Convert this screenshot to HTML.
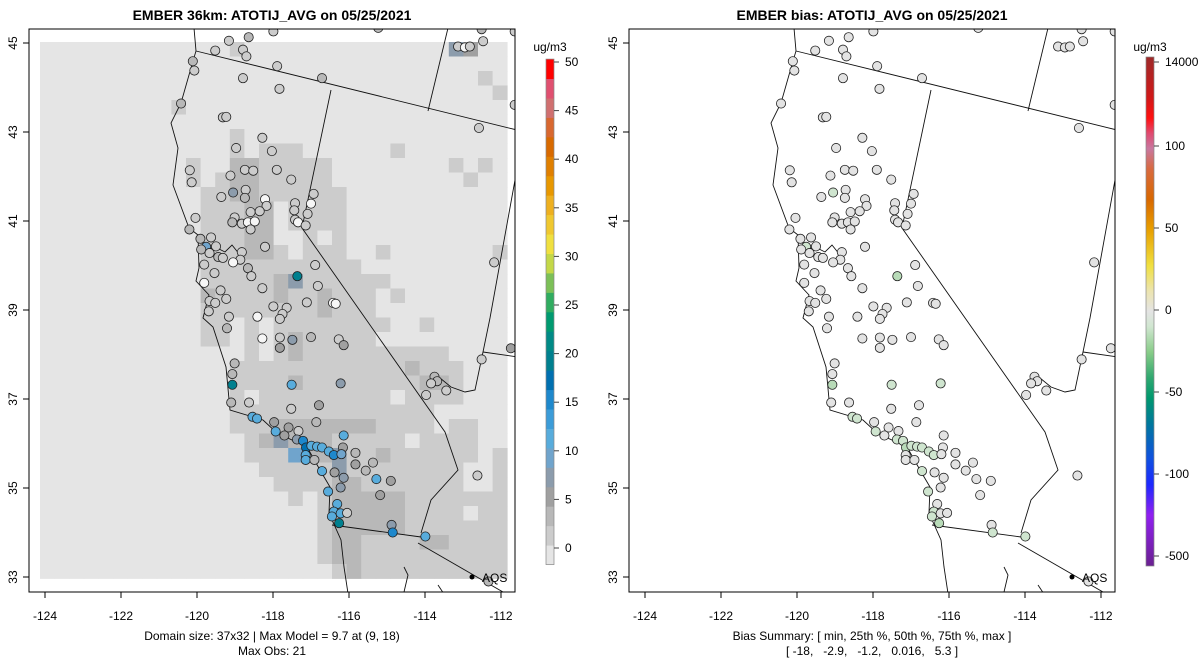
<!DOCTYPE html>
<html><head><meta charset="utf-8"><title>EMBER ATOTIJ_AVG</title>
<style>
html,body{margin:0;padding:0;background:#fff;}
svg{display:block;font-family:"Liberation Sans",Arial,sans-serif;}
</style></head>
<body>
<svg id="chart" width="1200" height="672" viewBox="0 0 1200 672" xmlns="http://www.w3.org/2000/svg">
<defs>
<clipPath id="clipL"><rect x="29" y="29" width="486" height="563"/></clipPath>
<clipPath id="clipR"><rect x="629" y="29" width="486" height="563"/></clipPath>
<linearGradient id="biasGrad" x1="0" y1="0" x2="0" y2="1">
<stop offset="0" stop-color="#9e2a2a"/><stop offset="0.08" stop-color="#d01818"/>
<stop offset="0.12" stop-color="#ff1010"/><stop offset="0.15" stop-color="#e04a70"/>
<stop offset="0.18" stop-color="#c878a0"/><stop offset="0.22" stop-color="#d86a40"/>
<stop offset="0.28" stop-color="#d86800"/><stop offset="0.34" stop-color="#e8a000"/>
<stop offset="0.41" stop-color="#f0e040"/><stop offset="0.46" stop-color="#ece4b0"/>
<stop offset="0.5" stop-color="#e4e4e4"/><stop offset="0.53" stop-color="#d0e6d0"/>
<stop offset="0.58" stop-color="#88cc88"/><stop offset="0.63" stop-color="#30a870"/>
<stop offset="0.67" stop-color="#00986e"/><stop offset="0.72" stop-color="#00789c"/>
<stop offset="0.79" stop-color="#1050e0"/><stop offset="0.84" stop-color="#1c28ff"/>
<stop offset="0.9" stop-color="#9020f0"/><stop offset="1" stop-color="#6a2090"/>
</linearGradient>
</defs>
<text x="272" y="20" text-anchor="middle" font-size="14" font-weight="bold">EMBER 36km: ATOTIJ_AVG on 05/25/2021</text>
<text x="872" y="20" text-anchor="middle" font-size="14" font-weight="bold">EMBER bias: ATOTIJ_AVG on 05/25/2021</text>
<g id="gridL" clip-path="url(#clipL)"></g>
<g id="geoL" clip-path="url(#clipL)"></g>
<g id="geoR" clip-path="url(#clipR)"></g>
<g id="stL" clip-path="url(#clipL)"></g>
<g id="stR" clip-path="url(#clipR)"></g>
<rect x="29" y="29" width="486" height="563" fill="none" stroke="#000" stroke-width="1"/>
<rect x="629" y="29" width="486" height="563" fill="none" stroke="#000" stroke-width="1"/>
<g id="axes"></g>
<g id="cbars"></g>
<text x="272" y="640" text-anchor="middle" font-size="12">Domain size: 37x32 | Max Model = 9.7 at (9, 18)</text>
<text x="272" y="655" text-anchor="middle" font-size="12">Max Obs: 21</text>
<text x="872" y="640" text-anchor="middle" font-size="12">Bias Summary: [ min, 25th %, 50th %, 75th %, max ]</text>
<text x="872" y="655" text-anchor="middle" font-size="12" xml:space="preserve">[ -18,   -2.9,   -1.2,   0.016,   5.3 ]</text>
</svg>
<script>
var NS="http://www.w3.org/2000/svg";
// ---- data ----
var lonTicks=[-124,-122,-120,-118,-116,-114,-112];
var latTicks=[33,35,37,39,41,43,45];
var obsTicks=[0,5,10,15,20,25,30,35,40,45,50];
var biasTicks=[14000,100,50,0,-50,-100,-500];
var obsPalette=['#e5e5e5','#cccccc','#b8b8b8','#a0a0a0','#8c9cac','#70a4cc','#58acdc','#3c9cd8','#1e88cc','#0070b0','#00808f','#008a86','#009a70','#30ac60','#7cc058','#c4d848','#f0e040','#f0c830','#eeb020','#e89800','#e08000','#d86a00','#d86830','#d07070','#e05070','#ff0000'];
var cellValues={'a':0,'b':2,'c':4,'d':6,'g':8,'u':8,'U':10};
var gridRows=[
"13a1b14a1g1d2a","32a","30a1b1a","31a1b","9a1b22a","32a","13a1b18a",
"13a1b1a3b6a1b7a","10a1b2a2c5b8a1b1a1b1a","10a1b1a1b2c5b9a1b2a",
"11a2b2c6b11a","11a3b2c1a4b11a","11a3b2c1a4b11a",
"11a3b2c2a1b1a1b11a","11a3b2c1b1a3b2a1b7a1b","11a11b10a",
"11a5b1c1u6b8a","11a1c4b1c2b1c3b1a1b7a","11a8b1c3b9a",
"11a2b1a1b1a8b2a1b5a","11a2b1a1b1a1b1c5b9a","14a1b1a1b1c10b4a",
"13a12b1c3b3a","13a4b1c8b2c1b3a","13a1b1a9b1a4b3a","13a14b5a",
"13a3b7c4b1a2b2a","14a1b1c1u3c5b1a4b2a","14a3b1U2c1g2b1c6b1a1b",
"15a2b3b1g8b2a1b","16a4b2c7b2a1b","17a1b1a1b5c7b","19a1b5c4b1a2b",
"19a1b5c7b","19a1b2c4b2c4b","19a1b2c10b","20a1b1c10b"];
// stations: [lon, lat, obs (ug/m3), bias]
var stations=[
[-119.16,45.05,2,-1],[-118.64,45.13,3,-1],[-117.99,45.26,1,0],[-119.52,44.83,1,-1],[-118.79,44.85,1,-1],[-118.70,44.70,2,-1],
[-120.11,44.59,3,-1],[-120.07,44.38,1,-1],[-117.89,44.48,1,0],[-116.71,44.21,3,-1],[-118.79,44.21,2,-1],[-117.83,43.97,1,-1],
[-120.42,43.64,4,-1],[-119.32,43.33,1,-1],[-119.23,43.34,1,-1],[-118.28,42.87,1,-1],[-118.97,42.64,1,-1],[-118.03,42.57,2,-1],
[-120.19,42.14,1,-1],[-120.14,41.87,1,-1],[-119.12,42.02,2,-1],[-118.74,42.15,2,-1],[-118.52,42.13,1,-1],[-117.90,42.15,1,0],
[-117.52,41.93,1,-1],[-119.05,41.64,7,-3],[-118.72,41.70,2,-1],[-118.74,41.52,4,-1],[-119.36,41.54,1,-1],[-118.21,41.49,0,0],
[-118.17,41.34,2,-1],[-118.59,41.20,2,-1],[-118.35,41.22,2,-1],[-117.42,41.40,1,-1],[-116.93,41.61,2,-1],[-117.00,41.39,0,0],
[-117.44,41.24,1,-1],[-117.09,41.16,1,-1],[-117.42,41.03,1,-1],[-117.34,40.97,0,0],[-117.14,40.90,1,-1],[-120.04,41.07,1,-1],
[-120.20,40.81,4,-2],[-119.01,41.08,2,-1],[-119.07,40.97,4,-1],[-118.82,40.94,2,-1],[-118.66,40.97,0,0],[-118.48,40.99,0,0],
[-118.59,40.81,1,-1],[-119.91,40.60,3,-2],[-119.63,40.63,1,-1],[-119.76,40.42,10,-5],[-119.50,40.43,2,-1],[-119.89,40.36,3,-2],
[-119.67,40.28,2,-1],[-119.44,40.19,3,-1],[-119.32,40.17,2,-1],[-118.82,40.30,2,-1],[-118.86,40.13,1,-1],[-119.05,40.07,0,0],
[-119.81,40.02,1,-1],[-119.54,39.83,2,-1],[-118.66,39.94,4,-1],[-118.57,39.76,1,-1],[-118.21,40.42,1,-1],[-116.89,40.01,1,-1],
[-117.36,39.76,20,-9],[-116.82,39.54,1,-1],[-118.28,39.49,1,-1],[-119.81,39.61,0,0],[-119.38,39.44,1,-1],[-119.23,39.25,1,-1],
[-117.99,39.08,1,-1],[-117.64,39.05,2,-1],[-117.75,38.91,2,-1],[-117.11,39.17,1,-1],[-116.42,39.16,0,0],[-116.35,39.14,0,0],
[-115.23,45.34,3,-1],[-112.51,45.31,3,-1],[-112.47,45.04,1,-1],[-113.13,44.92,2,-1],[-112.95,44.90,0,0],[-112.82,44.92,1,-1],
[-111.64,45.26,1,-1],[-111.64,43.61,2,-1],[-112.58,43.09,1,-1],[-112.18,40.07,2,-1],[-119.67,39.20,2,-1],[-119.52,39.16,1,-1],
[-119.69,38.97,2,-1],[-119.16,38.85,1,-1],[-118.41,38.85,0,0],[-117.82,38.80,1,-1],[-119.21,38.59,4,-1],[-118.28,38.36,0,0],
[-117.82,38.38,2,-1],[-117.82,38.15,5,-2],[-117.49,38.33,7,-2],[-117.00,38.39,3,-1],[-116.27,38.34,1,-1],[-116.14,38.21,6,-2],
[-119.01,37.80,3,-1],[-119.07,37.56,3,-1],[-119.07,37.32,20,-12],[-117.51,37.32,12,-6],[-116.22,37.35,8,-4],[-119.10,36.92,4,-1],
[-118.63,36.92,2,-1],[-117.52,36.78,1,-1],[-116.79,36.86,6,-2],[-118.54,36.60,11,-6],[-118.42,36.56,11,-6],[-117.97,36.48,6,-2],
[-116.86,36.48,4,-1],[-117.93,36.27,11,-5],[-117.59,36.36,5,-1],[-117.70,36.18,6,-2],[-117.33,36.28,2,-1],[-117.37,36.09,8,-3],
[-117.21,36.06,15,-7],[-117.13,35.91,18,-8],[-116.99,35.95,11,-6],[-116.84,35.93,11,-6],[-116.71,35.91,11,-5],[-116.14,36.18,12,-2],
[-116.16,35.91,6,-2],[-116.53,35.82,11,-5],[-116.40,35.74,15,-7],[-116.20,35.76,10,-2],[-117.14,35.74,11,-2],[-117.14,35.63,11,-2],
[-116.91,35.63,4,-1],[-116.71,35.38,11,-6],[-116.38,35.35,6,-2],[-116.14,35.23,7,-1],[-116.22,35.01,8,-2],[-115.83,35.79,3,-1],
[-115.37,35.57,3,-1],[-115.83,35.53,5,-1],[-115.56,35.39,3,-1],[-115.28,35.20,12,-2],[-114.90,35.16,5,-1],[-115.18,34.84,5,-1],
[-116.55,34.92,11,-6],[-116.31,34.64,11,-2],[-116.40,34.47,11,-5],[-116.22,34.43,11,-2],[-116.05,34.44,1,-1],[-116.45,34.36,11,-5],
[-116.26,34.21,20,-10],[-114.88,34.17,7,-2],[-114.85,34.00,15,-6],[-113.99,33.91,11,-5],[-113.75,37.50,3,-1],[-113.68,37.40,4,-1],
[-113.84,37.35,1,-1],[-113.44,37.19,1,-1],[-113.97,37.09,1,-1],[-112.51,37.89,1,-1],[-111.74,38.14,5,-1],[-112.62,35.28,1,-1],
[-112.33,32.90,3,-1]];
// ---- scales ----
function xS(lon,off){return 45+(lon+124)*38+off;}
function yS(lat){return 577-(lat-33)*44.5;}
function obsY(v){return 548-v*9.72;}
var biasDom=[-500,-100,100,14000], biasRng=[556,474,146,62];
function biasY(v){for(var i=0;i<biasDom.length-1;i++){if(v<=biasDom[i+1]){var t=(v-biasDom[i])/(biasDom[i+1]-biasDom[i]);return biasRng[i]+t*(biasRng[i+1]-biasRng[i]);}}return biasRng[3];}
function obsColor(v){var i=Math.floor((v+1)/2);if(i<0)i=0;if(i>25)i=25;return obsPalette[i];}
function stationColor(v){return v<0.5?'#f6f6f6':obsColor(v);}
function biasColor(b){if(b>-2.5&&b<2.5)return '#e3e3e3';if(b>=2.5)return '#ece8c8';if(b<=-12.5)return '#9fd09f';if(b<=-7.5)return '#b8dbb8';return '#cfe5cf';}
function mk(tag,attrs,parent){var e=document.createElementNS(NS,tag);for(var k in attrs)e.setAttribute(k,attrs[k]);parent.appendChild(e);return e;}
// ---- grid ----
var gL=document.getElementById('gridL');
var cw=14.6,ch=14.5,gx0=40,gy0=42;
gridRows.forEach(function(row,r){
  var re=/(\d+)(\D)/g,m,c=0;
  while((m=re.exec(row))!==null){var n=parseInt(m[1]);var v=cellValues[m[2]];
    for(var j=0;j<n;j++){var e=mk('rect',{x:gx0+c*cw,y:gy0+r*ch,width:cw+0.4,height:ch+0.4,fill:obsColor(v)},gL);
      
      
      c++;}
  }
});
// ---- geography (pixel polylines of projected map) ----
var geo=[
 [[194,28],[196,51],[193,61],[181,103],[171,123],[178,148],[173,185],[189,228],[198,235],[199,268],[196,281],[209,295],[203,318],[213,327],[226,367],[230,410],[263,420],[277,433],[307,447],[320,470],[330,487],[329,513],[341,540],[344,567],[349,600]],
 [[196,51],[517,130]],
 [[331,90],[302,228],[445,432],[458,470],[431,500],[421,533]],
 [[332,525],[421,537]],[[418,543],[503,592]],
 [[448,28],[428,111]],
 [[517,169],[490,318],[483,352],[475,390],[465,392],[451,387],[440,378]],
 [[483,352],[518,357]],
 [[404,567],[408,575],[404,592]],[[438,585],[448,600]],
 [[205,250],[215,247],[225,252],[232,245],[240,255]]
];
['geoL','geoR'].forEach(function(id,k){var g=document.getElementById(id);var off=k*600;
 geo.forEach(function(line){var e=mk('polyline',{points:line.map(function(p){return (p[0]+off)+','+p[1];}).join(' '),fill:'none',stroke:'#111','stroke-width':0.9},g);
  
  });
});
// ---- stations ----
var sL=document.getElementById('stL'),sR=document.getElementById('stR');
stations.forEach(function(s){
 var a=mk('circle',{cx:xS(s[0],0),cy:yS(s[1]),r:4.6,fill:stationColor(s[2]),stroke:'#222','stroke-width':0.8},sL);
 
 
 var b=mk('circle',{cx:xS(s[0],600),cy:yS(s[1]),r:4.6,fill:biasColor(s[3]),stroke:'#222','stroke-width':0.8},sR);
 
 
});
// AQS legend
[0,600].forEach(function(off){var g=document.getElementById(off?'stR':'stL');
 var d=mk('circle',{cx:472+off,cy:577,r:2.5,fill:'#000'},g);
 
 
 var t=mk('text',{x:482+off,y:582,'font-size':12},g);t.textContent='AQS';
 
 
});
// ---- axes ----
var ax=document.getElementById('axes');
[0,600].forEach(function(off){
 lonTicks.forEach(function(lon){var x=xS(lon,off);
  var l=mk('line',{x1:x,y1:592,x2:x,y2:598,stroke:'#000'},ax);
  
  
  var t=mk('text',{x:x,y:620,'text-anchor':'middle','font-size':12},ax);t.textContent=String(lon);
  
  });
 latTicks.forEach(function(lat){var y=yS(lat);
  var l=mk('line',{x1:23+off,y1:y,x2:29+off,y2:y,stroke:'#000'},ax);
  
  
  var t=mk('text',{x:17+off,y:y,'text-anchor':'middle','font-size':12,transform:'rotate(-90 '+(17+off)+' '+y+')'},ax);t.textContent=String(lat);
  
  });
});
// ---- colorbars ----
var cb=document.getElementById('cbars');
obsPalette.forEach(function(c,i){var v0=-1.7+2*i,v1=v0+2;
 var e=mk('rect',{x:546,y:obsY(v1),width:8,height:obsY(v0)-obsY(v1)+0.5,fill:c},cb);
 
 });
var fr=mk('rect',{x:546,y:obsY(50.3),width:8,height:obsY(-1.7)-obsY(50.3),fill:'none',stroke:'#888','stroke-width':0.7},cb);


obsTicks.forEach(function(v){var y=obsY(v);
 var l=mk('line',{x1:554,y1:y,x2:559,y2:y,stroke:'#444'},cb);
 
 
 var t=mk('text',{x:565,y:y+4,'font-size':12},cb);t.textContent=String(v);
 
 });
var br=mk('rect',{x:1146,y:57,width:8,height:509,fill:'url(#biasGrad)',stroke:'#888','stroke-width':0.7},cb);


biasTicks.forEach(function(v){var y=biasY(v);
 var l=mk('line',{x1:1154,y1:y,x2:1159,y2:y,stroke:'#444'},cb);
 
 
 var t=mk('text',{x:1165,y:y+4,'font-size':12},cb);t.textContent=String(v);
 
 });
[550,1150].forEach(function(x,i){var t=mk('text',{x:x,y:51,'text-anchor':'middle','font-size':12},cb);t.textContent='ug/m3';
 
 });
</script>
</body></html>
